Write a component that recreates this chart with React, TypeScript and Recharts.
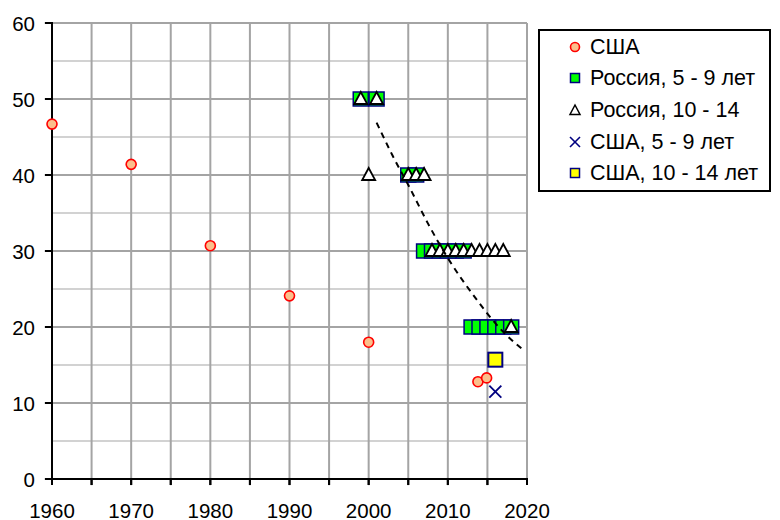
import React from 'react';
import { ScatterChart, Scatter, XAxis, YAxis, ReferenceLine, Legend } from 'recharts';

// ---- data ----
const usaYears = [1960, 1970, 1980, 1990, 2000, 2013.8, 2014.9];
const usaValues = [46.7, 41.4, 30.7, 24.1, 18.0, 12.8, 13.3];

const ru59Years = [1999, 2001, 2005, 2006, 2007, 2008, 2009, 2010, 2011, 2012, 2013, 2014, 2015, 2016, 2017, 2018];
const ru59Values = [50, 50, 40, 40, 30, 30, 30, 30, 30, 30, 20, 20, 20, 20, 20, 20];

const ru1014Years = [1999, 2001, 2000, 2005, 2006, 2007, 2008, 2009, 2010, 2011, 2012, 2013, 2014, 2015, 2016, 2017, 2018];
const ru1014Values = [50, 50, 40, 40, 40, 40, 30, 30, 30, 30, 30, 30, 30, 30, 30, 30, 20];

const usa59Years = [2016];
const usa59Values = [11.5];

const usa1014Years = [2016];
const usa1014Values = [15.7];

const trendYears = [2001, 2003, 2005.2, 2007.5, 2010.1, 2013.65, 2016.5, 2019.5];
const trendValues = [46.9, 42.6, 38.3, 33.6, 28.9, 23.6, 19.9, 17.0];

const xTicks = [1960, 1965, 1970, 1975, 1980, 1985, 1990, 1995, 2000, 2005, 2010, 2015, 2020];
const yTicks = [0, 10, 20, 30, 40, 50, 60];
const yMinor = [5, 15, 25, 35, 45, 55];

const legendLabels = ['США', 'Россия, 5 - 9 лет', 'Россия, 10 - 14', 'США, 5 - 9 лет', 'США, 10 - 14 лет'];

const zip = (xs: number[], ys: number[]) => xs.map((x, i) => ({ x, y: ys[i] }));

const usaData = zip(usaYears, usaValues);
const ru59Data = zip(ru59Years, ru59Values);
const ru1014Data = zip(ru1014Years, ru1014Values);
const usa59Data = zip(usa59Years, usa59Values);
const usa1014Data = zip(usa1014Years, usa1014Values);
const trendData = zip(trendYears, trendValues);

const NAVY = '#000080';
const PEACH = '#fbbf8c';
const FONT = '"Liberation Sans", Arial, sans-serif';

const CircleShape = (p: any) => (
  <circle cx={p.cx} cy={p.cy} r={5} fill={PEACH} stroke="#ff0000" strokeWidth={1.6} />
);
const GreenSquare = (p: any) => (
  <rect x={p.cx - 7.5} y={p.cy - 7} width={15} height={14} fill="#00ff00" stroke={NAVY} strokeWidth={1.5} />
);
const Triangle = (p: any) => (
  <polygon
    points={`${p.cx},${p.cy - 7} ${p.cx - 6.5},${p.cy + 5} ${p.cx + 6.5},${p.cy + 5}`}
    fill="#ffffff"
    stroke="#000000"
    strokeWidth={1.8}
  />
);
const Cross = (p: any) => (
  <g stroke={NAVY} strokeWidth={1.8}>
    <line x1={p.cx - 6} y1={p.cy - 6} x2={p.cx + 6} y2={p.cy + 6} />
    <line x1={p.cx - 6} y1={p.cy + 6} x2={p.cx + 6} y2={p.cy - 6} />
  </g>
);
const YellowSquare = (p: any) => (
  <rect x={p.cx - 7} y={p.cy - 7} width={14} height={14} fill="#ffff00" stroke={NAVY} strokeWidth={2} />
);
const NoShape = () => <g />;

const XTick = (p: any) => {
  const v = p.payload.value as number;
  return (
    <g>
      <line x1={p.x} y1={p.y - 1} x2={p.x} y2={p.y + 6} stroke="#000" strokeWidth={2} />
      {v % 10 === 0 && (
        <text x={p.x} y={p.y + 38.5} textAnchor="middle" fontFamily={FONT} fontSize={20.5} fill="#000">
          {v}
        </text>
      )}
    </g>
  );
};

const YTick = (p: any) => {
  const v = p.payload.value as number;
  return (
    <g>
      <line x1={p.x - 7} y1={p.y} x2={p.x + 1} y2={p.y} stroke="#000" strokeWidth={2} />
      <text x={p.x - 17} y={p.y + 7.5} textAnchor="end" fontFamily={FONT} fontSize={20.5} fill="#000">
        {v}
      </text>
    </g>
  );
};

const legendMarker = (i: number) => {
  const c = 8;
  switch (i) {
    case 0:
      return <circle cx={c} cy={c} r={4.5} fill={PEACH} stroke="#ff0000" strokeWidth={1.6} />;
    case 1:
      return <rect x={c - 4.5} y={c - 4.5} width={9} height={9} fill="#00ff00" stroke={NAVY} strokeWidth={1.5} />;
    case 2:
      return <polygon points={`${c},${c - 5} ${c - 5},${c + 4.5} ${c + 5},${c + 4.5}`} fill="#fff" stroke="#000" strokeWidth={1.5} />;
    case 3:
      return (
        <g stroke={NAVY} strokeWidth={1.6}>
          <line x1={c - 5} y1={c - 5} x2={c + 5} y2={c + 5} />
          <line x1={c - 5} y1={c + 5} x2={c + 5} y2={c - 5} />
        </g>
      );
    default:
      return <rect x={c - 4.5} y={c - 4.5} width={9} height={9} fill="#ffff00" stroke={NAVY} strokeWidth={1.5} />;
  }
};

const LegendBox = () => (
  <div
    style={{
      position: 'relative',
      width: 233,
      height: 163,
      boxSizing: 'border-box',
      border: '2px solid #000',
      background: '#fff',
      fontFamily: FONT,
      fontSize: 21.5,
      color: '#000',
    }}
  >
    {legendLabels.map((label, i) => (
      <div key={label} style={{ position: 'absolute', left: 0, top: 15.5 + i * 31.7 - 12, height: 24, width: 229 }}>
        <svg width={16} height={16} style={{ position: 'absolute', left: 27, top: 4 }}>
          {legendMarker(i)}
        </svg>
        <span style={{ position: 'absolute', left: 50, whiteSpace: 'nowrap', lineHeight: '24px', top: 0 }}>{label}</span>
      </div>
    ))}
  </div>
);

export default function App() {
  return (
    <div style={{ position: 'absolute', left: 0, top: 0, width: 780, height: 520, background: '#fff' }}>
      <ScatterChart width={780} height={520} margin={{ top: 23, right: 253, bottom: 0, left: 0 }}>
        {yMinor.map((v) => (
          <ReferenceLine key={'ym' + v} y={v} stroke="#d2d2d2" strokeWidth={2} />
        ))}
        {yTicks.filter((v) => v > 0).map((v) => (
          <ReferenceLine key={'yM' + v} y={v} stroke="#a4a4a4" strokeWidth={2} />
        ))}
        {xTicks.filter((v) => v > 1960).map((v) => (
          <ReferenceLine key={'x' + v} x={v} stroke="#a4a4a4" strokeWidth={2} />
        ))}
        <XAxis
          type="number"
          dataKey="x"
          domain={[1960, 2020]}
          ticks={xTicks}
          interval={0}
          tick={XTick}
          tickSize={0}
          tickMargin={0}
          tickLine={false}
          height={41}
          axisLine={{ stroke: '#000', strokeWidth: 2 }}
        />
        <YAxis
          type="number"
          dataKey="y"
          domain={[0, 60]}
          ticks={yTicks}
          interval={0}
          tick={YTick}
          tickSize={0}
          tickMargin={0}
          tickLine={false}
          width={52}
          axisLine={{ stroke: '#000', strokeWidth: 2 }}
        />
        <Scatter name="США" data={usaData} shape={CircleShape} isAnimationActive={false} />
        <Scatter name="Россия, 5 - 9 лет" data={ru59Data} shape={GreenSquare} isAnimationActive={false} />
        <Scatter name="Россия, 10 - 14" data={ru1014Data} shape={Triangle} isAnimationActive={false} />
        <Scatter name="США, 5 - 9 лет" data={usa59Data} shape={Cross} isAnimationActive={false} />
        <Scatter name="США, 10 - 14 лет" data={usa1014Data} shape={YellowSquare} isAnimationActive={false} />
        <Scatter
          name="trend"
          data={trendData}
          shape={NoShape}
          line={{ stroke: '#000', strokeWidth: 2, strokeDasharray: '6 5' }}
          lineJointType="monotoneX"
          legendType="none"
          isAnimationActive={false}
        />
        {xTicks.map((v) => (
          <ReferenceLine
            key={'xt' + v}
            segment={[{ x: v, y: 0 }, { x: v, y: -0.8 }]}
            ifOverflow="visible"
            stroke="#000"
            strokeWidth={2}
          />
        ))}
        {yTicks.map((v) => (
          <ReferenceLine
            key={'yt' + v}
            segment={[{ x: 1959.1, y: v }, { x: 1960, y: v }]}
            ifOverflow="visible"
            stroke="#000"
            strokeWidth={2}
          />
        ))}
        <Legend
          layout="horizontal"
          verticalAlign="middle"
          align="center"
          content={() => <LegendBox />}
          wrapperStyle={{ position: 'absolute', left: 538, top: 29, width: 233, height: 163 }}
        />
      </ScatterChart>
    </div>
  );
}
